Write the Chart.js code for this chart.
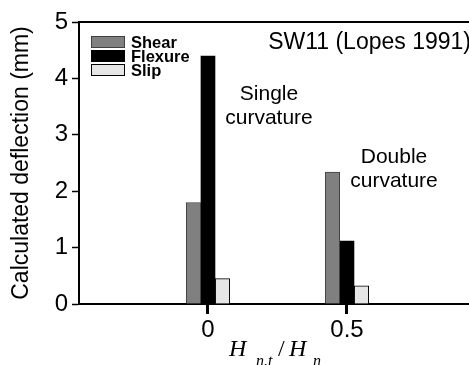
<!DOCTYPE html>
<html>
<head>
<meta charset="utf-8">
<script src="https://cdn.jsdelivr.net/npm/chart.js@4.4.1/dist/chart.umd.min.js"></script>
<style>
  html, body { margin: 0; padding: 0; background: #fff; }
  canvas { display: block; }
</style>
</head>
<body>
<canvas id="deflection-chart" width="469" height="365"></canvas>
<script>
// Hn,t / Hn ratios and tick labels
const ratios = [0, 0.5];
const ratioLabels = ['0', '0.5'];

// deflection components (mm)
const shearValues = [1.8, 2.34];
const flexureValues = [4.4, 1.12];
const slipValues = [0.45, 0.32];
const seriesNames = ['Shear', 'Flexure', 'Slip'];

const yTicks = [0, 1, 2, 3, 4, 5];
const specimenTitle = 'SW11 (Lopes 1991)';
const singleNote = ['Single', 'curvature'];
const doubleNote = ['Double', 'curvature'];

const sans = 'Arial, "Liberation Sans", sans-serif';
const serif = '"Times New Roman", "Liberation Serif", serif';

function points(values) {
    return ratios.map((r, i) => ({ x: r, y: values[i] }));
}

// legend in the top-left corner of the plot
const boxLegend = {
    id: 'boxLegend',
    afterDraw(chart) {
        const ctx = chart.ctx;
        const x = chart.chartArea.left + 12;
        let y = 36;
        ctx.save();
        ctx.font = 'bold 16.5px ' + sans;
        ctx.textBaseline = 'alphabetic';
        chart.data.datasets.forEach(ds => {
            ctx.fillStyle = ds.backgroundColor;
            ctx.fillRect(x, y, 34, 12);
            ctx.strokeStyle = ds.borderColor;
            ctx.lineWidth = 1;
            ctx.strokeRect(x + 0.5, y + 0.5, 33, 11);
            ctx.fillStyle = '#000';
            ctx.fillText(ds.label, x + 40, y + 11.5);
            y += 14;
        });
        ctx.restore();
    }
};

// frame top, notes and the x axis title
const notes = {
    id: 'notes',
    afterDraw(chart) {
        const ctx = chart.ctx;
        const area = chart.chartArea;
        ctx.save();
        ctx.strokeStyle = '#000';
        ctx.lineWidth = 2;
        ctx.beginPath();
        ctx.moveTo(area.left - 1, area.top);
        ctx.lineTo(area.right, area.top);
        ctx.stroke();

        ctx.fillStyle = '#000';
        ctx.font = '23px ' + sans;
        ctx.textAlign = 'right';
        ctx.fillText(specimenTitle, 471, 49);

        ctx.font = '21px ' + sans;
        ctx.textAlign = 'center';
        ctx.fillText(singleNote[0], 269, 100);
        ctx.fillText(singleNote[1], 269, 124);
        ctx.fillText(doubleNote[0], 394, 163);
        ctx.fillText(doubleNote[1], 394, 187);

        // Hn,t / Hn
        ctx.textAlign = 'left';
        ctx.font = 'italic 24px ' + serif;
        ctx.fillText('H', 229, 356);
        ctx.fillText('H', 289, 356);
        ctx.font = '24px ' + serif;
        ctx.fillText('/', 278, 356);
        ctx.font = 'italic 16px ' + serif;
        ctx.fillText('n.t', 256, 366);
        ctx.fillText('n', 313, 366);
        ctx.restore();
    }
};

const ctx = document.getElementById('deflection-chart').getContext('2d');
const chart = new Chart(ctx, {
    type: 'bar',
    data: {
        datasets: [
            {
                label: seriesNames[0],
                data: points(shearValues),
                backgroundColor: '#808080',
                borderColor: '#404040',
                borderWidth: 1
            },
            {
                label: seriesNames[1],
                data: points(flexureValues),
                backgroundColor: '#000000',
                borderColor: '#000000',
                borderWidth: 1
            },
            {
                label: seriesNames[2],
                data: points(slipValues),
                backgroundColor: '#e6e6e6',
                borderColor: '#000000',
                borderWidth: 1
            }
        ]
    },
    options: {
        responsive: false,
        animation: false,
        devicePixelRatio: 1,
        barThickness: 14.5,
        layout: { padding: { top: 22, left: 0, right: 0, bottom: 0 } },
        plugins: {
            legend: { display: false },
            tooltip: { enabled: false }
        },
        scales: {
            x: {
                type: 'linear',
                min: -0.464,
                max: 0.939,
                offset: false,
                afterBuildTicks: scale => {
                    scale.ticks = ratios.map(v => ({ value: v }));
                },
                afterFit: scale => { scale.height = 61; },
                ticks: {
                    callback: (v, i) => ratioLabels[i],
                    color: '#000',
                    font: { family: sans, size: 24 },
                    padding: 2,
                    maxRotation: 0
                },
                grid: {
                    offset: false,
                    drawOnChartArea: false,
                    tickLength: 10,
                    tickWidth: 3,
                    tickColor: '#000'
                },
                border: { color: '#000', width: 2 }
            },
            y: {
                min: 0,
                max: 5,
                afterBuildTicks: scale => {
                    scale.ticks = yTicks.map(v => ({ value: v }));
                },
                afterFit: scale => { scale.width = 79; },
                ticks: {
                    color: '#000',
                    font: { family: sans, size: 24 },
                    padding: 4
                },
                grid: {
                    drawOnChartArea: false,
                    tickLength: 7,
                    tickWidth: 1.5,
                    tickColor: '#000'
                },
                border: { color: '#000', width: 2 },
                title: {
                    display: true,
                    text: 'Calculated deflection (mm)',
                    color: '#000',
                    font: { family: sans, size: 23 },
                    padding: { top: 8, bottom: 0 }
                }
            }
        }
    },
    plugins: [boxLegend, notes]
});
</script>
</body>
</html>
